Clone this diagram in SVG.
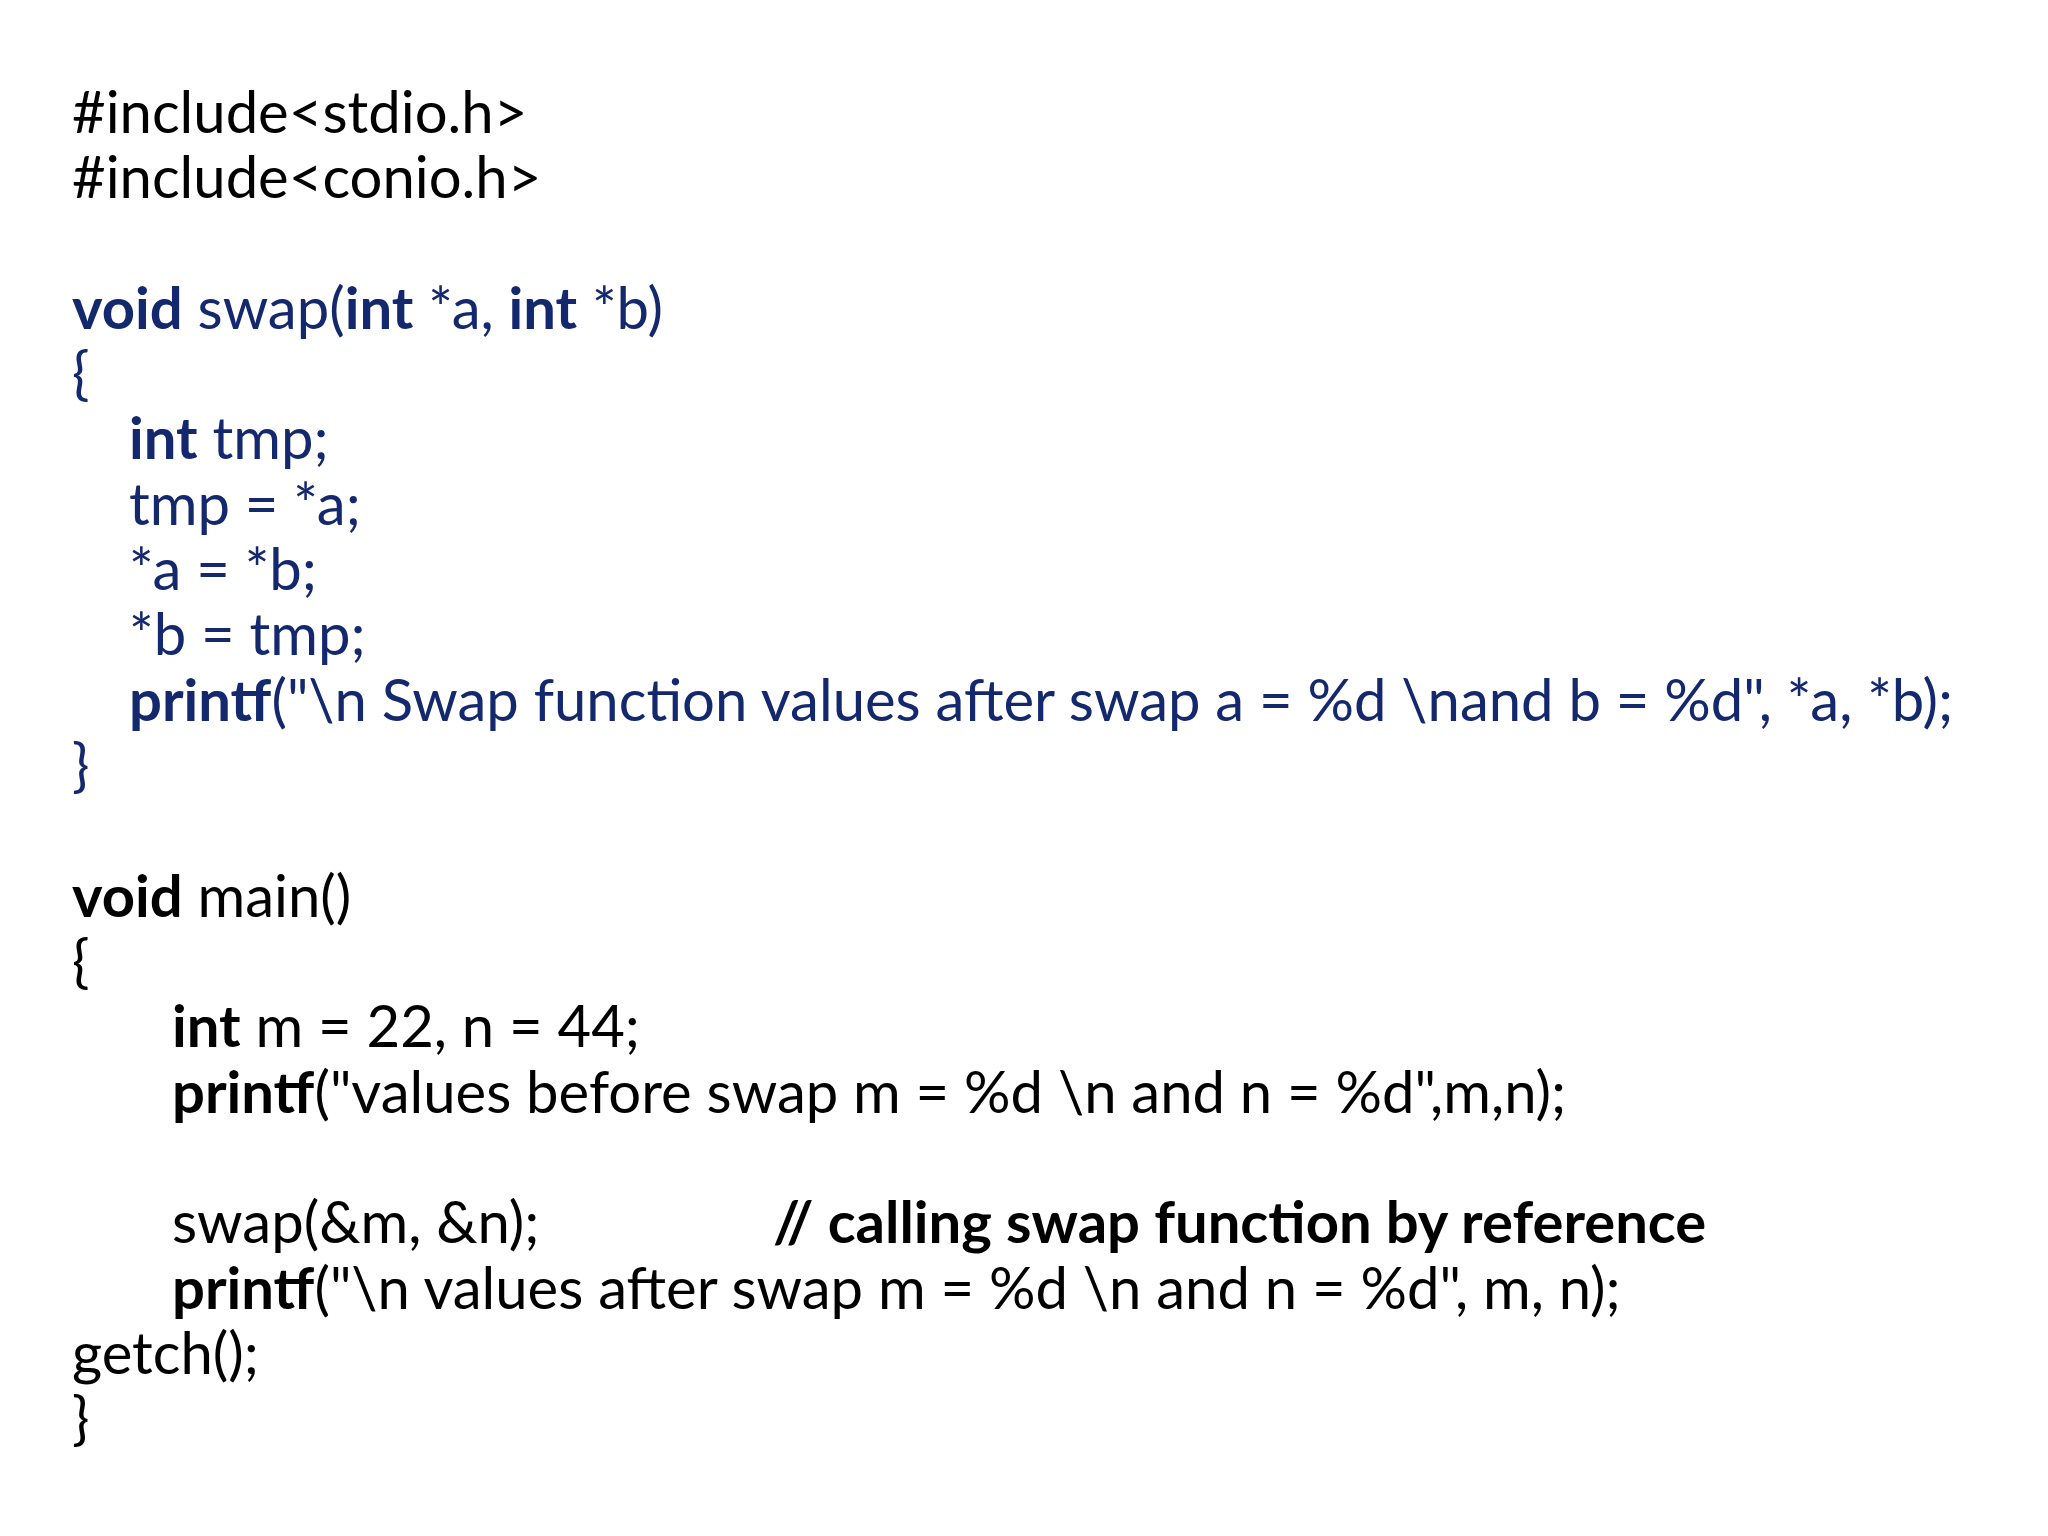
<svg xmlns="http://www.w3.org/2000/svg" width="2048" height="1536" viewBox="0 0 2048 1536">
<style>
text{font-family:Lato,"Liberation Sans",sans-serif;font-size:58px;fill:#000}
.n{fill:#14286e}
.b{font-weight:bold}
</style>
<rect width="2048" height="1536" fill="#fff"/>
<g id="code">
<text x="72" y="133">#include&lt;stdio.h&gt;</text>
<text x="72" y="198">#include&lt;conio.h&gt;</text>
<text x="72" y="329" class="n"><tspan class="b">void</tspan> swap(<tspan class="b">int</tspan> *a, <tspan class="b">int</tspan> *b)</text>
<text x="72" y="394" class="n">{</text>
<text x="129" y="459" class="n"><tspan class="b">int</tspan> tmp;</text>
<text x="129" y="525" class="n">tmp = *a;</text>
<text x="129" y="590" class="n">*a = *b;</text>
<text x="129" y="655" class="n">*b = tmp;</text>
<text x="129" y="721" class="n"><tspan class="b">printf</tspan>("\n Swap function values after swap a = %d \nand b = %d", *a, *b);</text>
<text x="72" y="786" class="n">}</text>
<text x="72" y="917"><tspan class="b">void</tspan> main()</text>
<text x="72" y="982">{</text>
<text x="172" y="1047"><tspan class="b">int</tspan> m = 22, n = 44;</text>
<text x="172" y="1113"><tspan class="b">printf</tspan>("values before swap m = %d \n and n = %d",m,n);</text>
<text x="172" y="1243">swap(&amp;m, &amp;n);</text>
<text x="773" y="1243" class="b">//  calling swap function by reference</text>
<text x="172" y="1309"><tspan class="b">printf</tspan>("\n values after swap m = %d \n and n = %d", m, n);</text>
<text x="72" y="1374">getch();</text>
<text x="72" y="1439">}</text>
</g>
</svg>
